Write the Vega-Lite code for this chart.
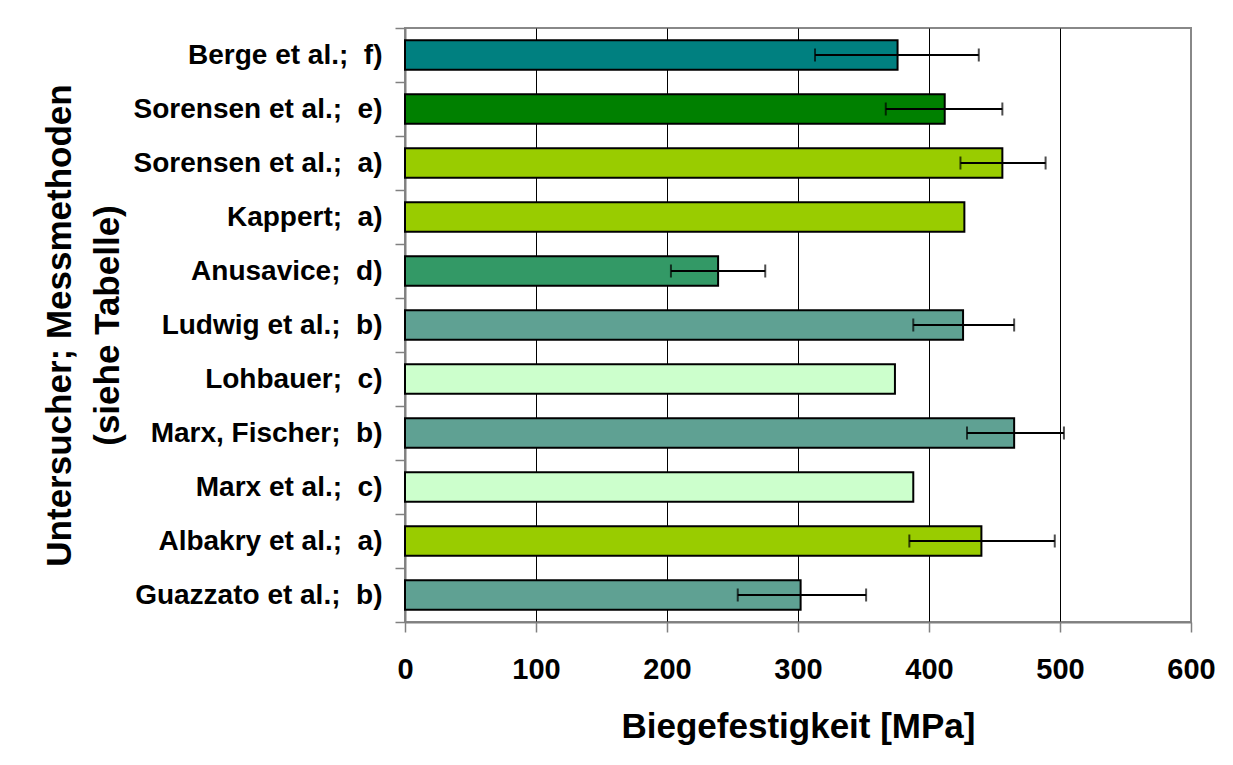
{
  "$schema": "https://vega.github.io/schema/vega-lite/v6.json",
  "width": 786,
  "height": 594,
  "autosize": {"type": "none"},
  "padding": {"left": 405, "top": 28, "right": 42, "bottom": 143},
  "background": "white",
  "config": {
    "font": "Liberation Sans",
    "view": {"stroke": "#888888", "strokeWidth": 2}
  },
  "data": {
    "values": [
      {"label": "Berge et al.;\u00a0 f)", "method": "f", "value": 376, "lo": 313, "hi": 438},
      {"label": "Sorensen et al.;\u00a0 e)", "method": "e", "value": 412, "lo": 367, "hi": 456},
      {"label": "Sorensen et al.;\u00a0 a)", "method": "a", "value": 456, "lo": 424, "hi": 489},
      {"label": "Kappert;\u00a0 a)", "method": "a", "value": 427, "lo": null, "hi": null},
      {"label": "Anusavice;\u00a0 d)", "method": "d", "value": 239, "lo": 203, "hi": 275},
      {"label": "Ludwig et al.;\u00a0 b)", "method": "b", "value": 426, "lo": 388, "hi": 465},
      {"label": "Lohbauer;\u00a0 c)", "method": "c", "value": 374, "lo": null, "hi": null},
      {"label": "Marx, Fischer;\u00a0 b)", "method": "b", "value": 465, "lo": 429, "hi": 503},
      {"label": "Marx et al.;\u00a0 c)", "method": "c", "value": 388, "lo": null, "hi": null},
      {"label": "Albakry et al.;\u00a0 a)", "method": "a", "value": 440, "lo": 385, "hi": 496},
      {"label": "Guazzato et al.;\u00a0 b)", "method": "b", "value": 302, "lo": 254, "hi": 352}
    ]
  },
  "encoding": {
    "y": {
      "field": "label",
      "type": "nominal",
      "sort": null,
      "scale": {"paddingInner": 0, "paddingOuter": 0},
      "axis": {
        "title": ["Untersucher; Messmethoden", "(siehe Tabelle)"],
        "titleFontSize": 35,
        "titleFontWeight": "bold",
        "titleColor": "black",
        "titleAngle": -90,
        "titleAlign": "center",
        "titleBaseline": "alphabetic",
        "titleLineHeight": 48,
        "titleX": -335,
        "titleY": 297,
        "labelFontSize": 28,
        "labelFontWeight": "bold",
        "labelColor": "black",
        "labelPadding": 13,
        "labelLimit": 400,
        "tickBand": "extent",
        "tickSize": 10,
        "tickColor": "#808080",
        "tickWidth": 1.5,
        "domainColor": "#808080",
        "domainWidth": 2,
        "grid": false
      }
    }
  },
  "layer": [
    {
      "mark": {"type": "bar", "height": {"band": 0.55}, "stroke": "black", "strokeWidth": 2},
      "encoding": {
        "x": {
          "field": "value",
          "type": "quantitative",
          "scale": {"domain": [0, 600], "nice": false},
          "axis": {
            "values": [0, 100, 200, 300, 400, 500, 600],
            "title": "Biegefestigkeit [MPa]",
            "titleFontSize": 35,
            "titleFontWeight": "bold",
            "titleColor": "black",
            "titleBaseline": "alphabetic",
            "titleY": 115,
            "labelFontSize": 29,
            "labelFontWeight": "bold",
            "labelColor": "black",
            "labelPadding": 23,
            "labelFlush": false,
            "tickSize": 10,
            "tickColor": "#808080",
            "tickWidth": 1.5,
            "domainColor": "#808080",
            "domainWidth": 2,
            "grid": true,
            "gridColor": {"condition": {"test": "datum.value === 0 || datum.value === 600", "value": "#888888"}, "value": "black"},
            "gridWidth": 1
          }
        },
        "color": {
          "field": "method",
          "type": "nominal",
          "scale": {"domain": ["a", "b", "c", "d", "e", "f"], "range": ["#99CC00", "#5FA193", "#CCFFCC", "#339966", "#008000", "#008080"]},
          "legend": null
        }
      }
    },
    {
      "transform": [{"filter": "isValid(datum.lo)"}],
      "mark": {"type": "rule", "color": "black", "strokeWidth": 2},
      "encoding": {
        "x": {"field": "lo", "type": "quantitative"},
        "x2": {"field": "hi"}
      }
    },
    {
      "transform": [{"filter": "isValid(datum.lo)"}],
      "mark": {"type": "tick", "color": "black", "thickness": 2, "size": 13},
      "encoding": {
        "x": {"field": "lo", "type": "quantitative"}
      }
    },
    {
      "transform": [{"filter": "isValid(datum.hi)"}],
      "mark": {"type": "tick", "color": "black", "thickness": 2, "size": 13},
      "encoding": {
        "x": {"field": "hi", "type": "quantitative"}
      }
    }
  ]
}
